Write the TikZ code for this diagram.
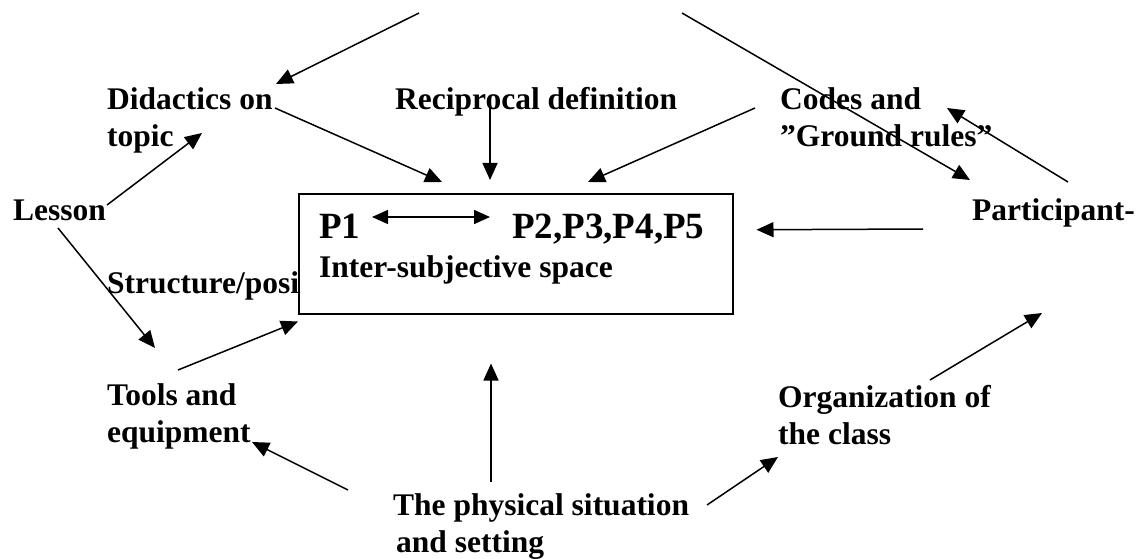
\documentclass[tikz,border=0pt]{standalone}
\usepackage{fontspec}
\setmainfont{Liberation Serif}
\usetikzlibrary{arrows.meta}
\begin{document}
\begin{tikzpicture}[x=1pt,y=-1pt,
  lbl/.style={font=\fontsize{31.5}{37}\selectfont\bfseries, inner sep=0pt, anchor=base west, align=left},
  big/.style={font=\fontsize{37}{42}\selectfont\bfseries, inner sep=0pt, anchor=base west},
  conn/.style={line width=1.5pt, -{Triangle[length=17pt,width=15pt]}},
  dconn/.style={line width=1.5pt, {Triangle[length=16pt,width=14pt]}-{Triangle[length=16pt,width=14pt]}}]
\useasboundingbox (0,0) rectangle (1138,559);
% labels (multi-line nodes are placed at the baseline of their last line)
\node[lbl] (did) at (107,147) {Didactics on\\topic};
\node[lbl] (rec) at (395,110) {Reciprocal definition};
\node[lbl] (codes) at (780,147) {Codes and\\”Ground rules”};
\node[lbl] (lesson) at (13,220) {Lesson};
\node[lbl] (part) at (972,220) {Participant-};
\node[lbl] (struct) at (107,293) {Structure/posi};
\node[lbl] (tools) at (107,442) {Tools and\\equipment};
\node[lbl] (org) at (778,444) {Organization of\\the class};
\node[lbl] (phys) at (393,552) {The physical situation\\\hspace*{3pt}and setting};
% central box
\node[draw, line width=1.5pt, fill=white, minimum width=434pt, minimum height=120pt, inner sep=0pt, anchor=north west] (box) at (298,193) {};
\node[big] (p1) at (319,238) {P1};
\node[big] (p2) at (512,238) {P2,P3,P4,P5};
\node[lbl] (inter) at (319,277) {Inter-subjective space};
\draw[dconn] ([shift={(53,-21)}]p1.base west) -- ([shift={(-22,-21)}]p2.base west);
% free starts
\coordinate (topl) at (419,13);
\coordinate (topr) at (682,13);
% connectors
\draw[conn] (topl) -- ([shift={(169,-63)}]did.base west);
\draw[conn] (topr) -- ([shift={(-2,-40)}]part.base west);
\draw[conn] ([shift={(168,-39)}]did.base west) -- ([shift={(144,-11)}]box.north west);
\draw[conn] ([shift={(95,-3)}]rec.base west) -- ([shift={(192,-13)}]box.north west);
\draw[conn] ([shift={(-25,-39)}]codes.base west) -- ([shift={(290,-11)}]box.north west);
\draw[conn] ([shift={(96,-38)}]part.base west) -- ([shift={(167,-39)}]codes.base west);
\draw[conn] ([shift={(94,-15)}]lesson.base west) -- ([shift={(95,-14)}]did.base west);
\draw[conn] ([shift={(45,8)}]lesson.base west) -- ([shift={(48,-94)}]tools.base west);
\draw[conn] ([shift={(71,-72)}]tools.base west) -- ([shift={(0,7)}]box.south west);
\draw[conn] ([shift={(-49,9)}]part.base west) -- ([shift={(23,-24)}]box.east);
\draw[conn] ([shift={(152,-64)}]org.base west) -- ([shift={(70,93)}]part.base west);
\draw[conn] ([shift={(98,-70)}]phys.base west) -- ([shift={(193,49)}]box.south west);
\draw[conn] ([shift={(314,-47)}]phys.base west) -- ([shift={(0,13)}]org.base west);
\draw[conn] ([shift={(-45,-62)}]phys.base west) -- ([shift={(145,0)}]tools.base west);
\end{tikzpicture}
\end{document}
